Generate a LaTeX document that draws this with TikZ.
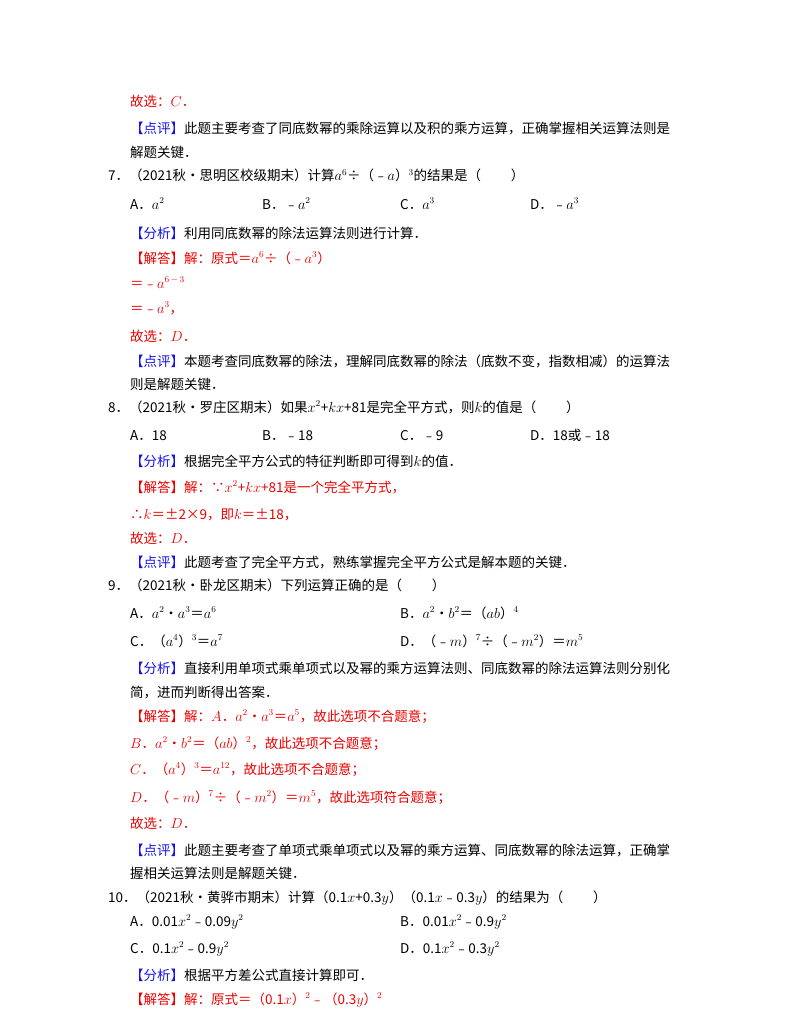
\documentclass[tikz,border=0pt]{standalone}
\usepackage{fontspec}
\setmainfont{Noto Sans CJK SC}
\definecolor{ansred}{RGB}{235,0,0}
\definecolor{tagblue}{RGB}{20,20,230}
\newcommand\R[1]{\textcolor{ansred}{#1}}
\newcommand\B[1]{\textcolor{tagblue}{#1}}
\newcommand\ms{\,﹣\,}
\tikzset{ln/.style={anchor=base west,inner sep=0pt,font=\fontsize{13.5}{16}\selectfont}}
\newcommand\Ln[4]{\node[ln] (#1) at (#2,-#3) {#4};}
\begin{document}
\begin{tikzpicture}[x=1pt,y=1pt]
\useasboundingbox[fill=white] (0,0) rectangle (800,-1035);
\Ln{t1}{130}{107}{\R{故选：$C$．}}
\Ln{t2}{130}{134}{\B{【点评】}此题主要考查了同底数幂的乘除运算以及积的乘方运算，正确掌握相关运算法则是}
\Ln{t3}{130}{158}{解题关键．}
\Ln{q7}{108}{181}{7．（2021秋•思明区校级期末）计算$a^6$÷（﹣$a$）$^3$的结果是（\hspace{2.2em}）}
\Ln{q7a}{130}{209}{A．$a^2$}
\Ln{q7b}{262}{209}{B．﹣$a^2$}
\Ln{q7c}{400}{209}{C．$a^3$}
\Ln{q7d}{530}{209}{D．﹣$a^3$}
\Ln{f7}{130}{238}{\B{【分析】}利用同底数幂的除法运算法则进行计算．}
\Ln{j7}{130}{263}{\R{【解答】解：原式＝$a^6$÷（﹣$a^3$）}}
\Ln{j7b}{130}{288}{\R{＝﹣$a^{6\,-\,3}$}}
\Ln{j7c}{130}{313}{\R{＝﹣$a^3$，}}
\Ln{g7}{130}{341}{\R{故选：$D$．}}
\Ln{p7}{130}{366}{\B{【点评】}本题考查同底数幂的除法，理解同底数幂的除法（底数不变，指数相减）的运算法}
\Ln{p7b}{130}{389}{则是解题关键．}
\Ln{q8}{108}{412}{8．（2021秋•罗庄区期末）如果$x^2$+$kx$+81是完全平方式，则$k$的值是（\hspace{2.2em}）}
\Ln{q8a}{130}{440}{A．18}
\Ln{q8b}{262}{440}{B．﹣18}
\Ln{q8c}{400}{440}{C．﹣9}
\Ln{q8d}{530}{440}{D．18或﹣18}
\Ln{f8}{130}{466}{\B{【分析】}根据完全平方公式的特征判断即可得到$k$的值．}
\Ln{j8}{130}{492}{\R{【解答】解：∵$x^2$+$kx$+81是一个完全平方式，}}
\Ln{j8b}{130}{519}{\R{∴$k$＝±2×9，即$k$＝±18，}}
\Ln{g8}{130}{543}{\R{故选：$D$．}}
\Ln{p8}{130}{567}{\B{【点评】}此题考查了完全平方式，熟练掌握完全平方公式是解本题的关键．}
\Ln{q9}{108}{590}{9．（2021秋•卧龙区期末）下列运算正确的是（\hspace{2.2em}）}
\Ln{q9a}{130}{618}{A．$a^2$•$a^3$＝$a^6$}
\Ln{q9b}{400}{618}{B．$a^2$•$b^2$＝（$ab$）$^4$}
\Ln{q9c}{130}{646}{C．（$a^4$）$^3$＝$a^7$}
\Ln{q9d}{400}{646}{D．（﹣$m$）$^7$÷（﹣$m^2$）＝$m^5$}
\Ln{f9}{130}{673}{\B{【分析】}直接利用单项式乘单项式以及幂的乘方运算法则、同底数幂的除法运算法则分别化}
\Ln{f9b}{130}{697}{简，进而判断得出答案．}
\Ln{j9}{130}{721}{\R{【解答】解：$A$．$a^2$•$a^3$＝$a^5$，故此选项不合题意；}}
\Ln{j9b}{130}{748}{\R{$B$．$a^2$•$b^2$＝（$ab$）$^2$，故此选项不合题意；}}
\Ln{j9c}{130}{774}{\R{$C$．（$a^4$）$^3$＝$a^{12}$，故此选项不合题意；}}
\Ln{j9d}{130}{802}{\R{$D$．（﹣$m$）$^7$÷（﹣$m^2$）＝$m^5$，故此选项符合题意；}}
\Ln{g9}{130}{828}{\R{故选：$D$．}}
\Ln{p9}{130}{855}{\B{【点评】}此题主要考查了单项式乘单项式以及幂的乘方运算、同底数幂的除法运算，正确掌}
\Ln{p9b}{130}{878}{握相关运算法则是解题关键．}
\Ln{q10}{108}{902}{10．（2021秋•黄骅市期末）计算（0.1$x$+0.3$y$）（0.1$x$﹣0.3$y$）的结果为（\hspace{2.2em}）}
\Ln{q10a}{130}{926}{A．0.01$x^2$﹣0.09$y^2$}
\Ln{q10b}{400}{926}{B．0.01$x^2$﹣0.9$y^2$}
\Ln{q10c}{130}{953}{C．0.1$x^2$﹣0.9$y^2$}
\Ln{q10d}{400}{953}{D．0.1$x^2$﹣0.3$y^2$}
\Ln{f10}{130}{980}{\B{【分析】}根据平方差公式直接计算即可．}
\Ln{j10}{130}{1004}{\R{【解答】解：原式＝（0.1$x$）$^2$﹣（0.3$y$）$^2$}}
\end{tikzpicture}
\end{document}
